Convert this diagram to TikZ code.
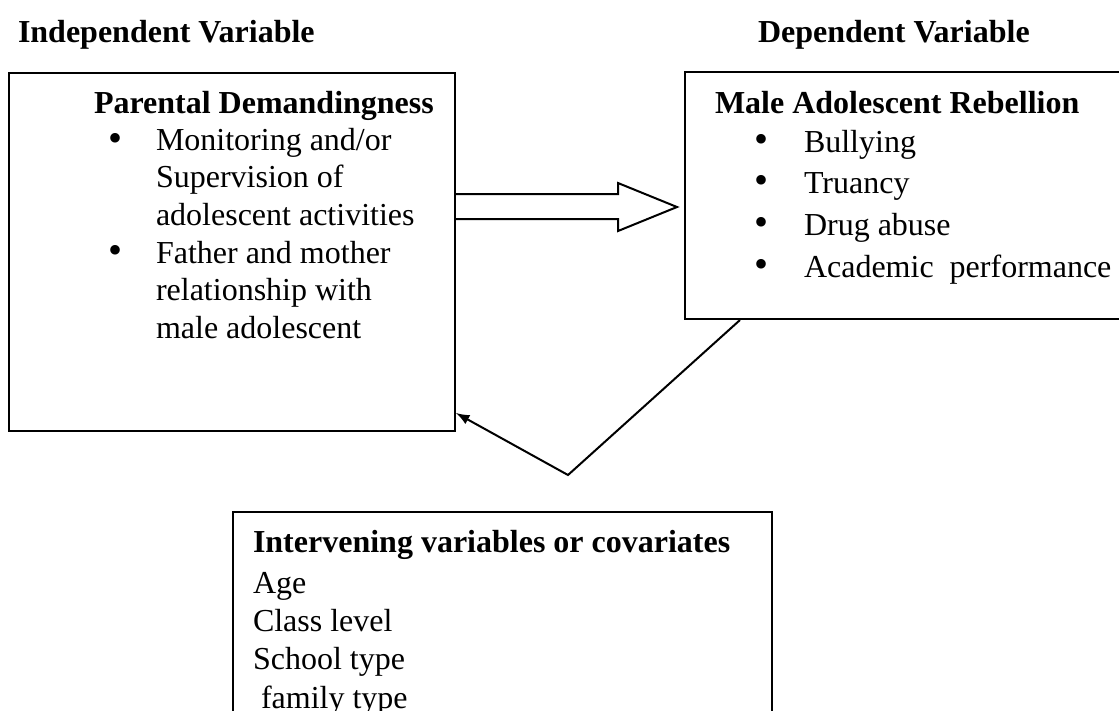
\documentclass[tikz,border=0pt]{standalone}
\usepackage{fontspec}
\setmainfont{Liberation Serif}
\usetikzlibrary{fit}
\newcommand\listbullet{{\fontsize{15}{14}\selectfont\textbullet}}

\begin{document}
\begin{tikzpicture}[x = .375pt, y = -.375pt, line width = .75pt,
  txt/.style = {anchor = base west, inner sep = 0pt, align = left,
  font = \fontsize{12}{14}\selectfont},
  head/.style = {txt, font = \fontsize{12}{14}\selectfont\bfseries},
  box/.style = {draw, inner sep = 0pt}]
  \useasboundingbox (0, 0) rectangle (1119, 710);
  \node[head] (indep) at (17, 42) {Independent Variable};
  \node[head] (dep) at (757, 42) {Dependent Variable};
  \node[box, fit = {(9, 73) (455, 431)}] (pdbox) {};
  \node[box, fit = {(685, 72) (1130, 319)}] (marbox) {};
  \node[box, fit = {(233, 512) (772, 740)}] (ivbox) {};
  \node[head] (pdtitle) at (93, 113) {Parental Demandingness};
  \node[txt] (pdbul1) at (107, 151) {\listbullet};
  \node[txt] (monitor) at (155, 225)
  {Monitoring and/or\\Supervision of\\adolescent activities};
  \node[txt] (pdbul2) at (107, 263) {\listbullet};
  \node[txt] (father) at (155, 338)
  {Father and mother\\relationship with\\male adolescent};
  \node[head] (martitle) at (714, 113) {Male Adolescent Rebellion};
  \node[txt, font = \fontsize{12}{15.6}\selectfont] (marbul) at (753, 277)
  {\listbullet\\\listbullet\\\listbullet\\\listbullet};
  \node[txt, font = \fontsize{12}{15.6}\selectfont] (rebel) at (803, 277)
  {Bullying\\Truancy\\Drug abuse\\Academic\ \ performance};
  \node[head] (ivtitle) at (252, 552) {Intervening variables or covariates};
  \node[txt, font = \fontsize{12}{14.35}\selectfont] (covs) at (252, 708)
  {Age\\Class level\\School type\\\ family type};
  \draw (pdbox.east |- 0, 194) -- (618, 194) -- (618, 183) -- (677, 207) --
  (618, 231) -- (618, 219) -- (pdbox.east |- 0, 219);
  \coordinate (bend) at (568, 475);
  \draw[-latex] (740, 0 |- marbox.south) -- (bend) -- (pdbox.east |- 0, 413);
\end{tikzpicture}
\end{document}
